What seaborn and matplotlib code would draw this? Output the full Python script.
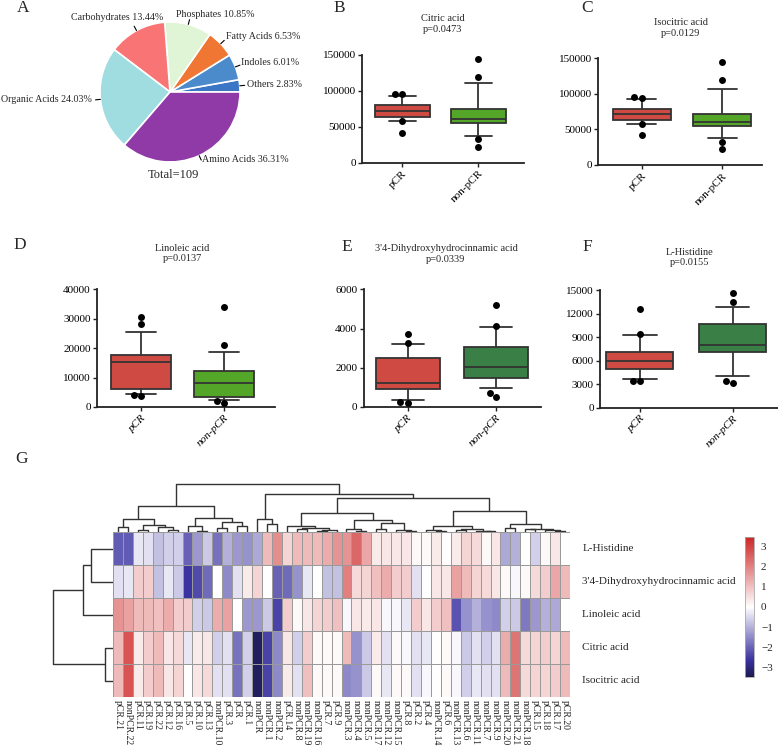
import numpy as np
import pandas as pd
import seaborn as sns
import matplotlib
matplotlib.use("Agg")
from matplotlib import pyplot as plt
from matplotlib.colors import LinearSegmentedColormap

# ---------------- data ----------------
pie_names = ["Others", "Indoles", "Fatty Acids", "Phosphates",
             "Carbohydrates", "Organic Acids", "Amino Acids"]
pie_pct = [2.83, 6.01, 6.53, 10.85, 13.44, 24.03, 36.31]
pie_total = 109

groups = ["pCR", "non-pCR"]

# box stats: whisker low, Q1, median, Q3, whisker high
citric_pcr = [58100, 63200, 72000, 79900, 93300]
citric_non = [37200, 55700, 60900, 74400, 110600]
citric_pcr_out = [96000, 95500, 58500, 41000]
citric_non_out = [144500, 119000, 32600, 22300]

isocitric_pcr = [57700, 63300, 71700, 79200, 93400]
isocitric_non = [37500, 54800, 60900, 71700, 107300]
isocitric_pcr_out = [95000, 94600, 57700, 42200]
isocitric_non_out = [144500, 119200, 32800, 22900]

linoleic_pcr = [4300, 6100, 15400, 17700, 25600]
linoleic_non = [2400, 3500, 8000, 12200, 18800]
linoleic_pcr_out = [30700, 28100, 3800, 4100]
linoleic_non_out = [34100, 21100, 1500, 1900]

dhc_pcr = [360, 900, 1240, 2480, 3210]
dhc_non = [950, 1500, 2060, 3050, 4100]
dhc_pcr_out = [3710, 3250, 220, 240]
dhc_non_out = [5200, 4130, 700, 500]

histidine_pcr = [3660, 4900, 6000, 7150, 9280]
histidine_non = [4050, 7070, 8000, 10690, 12900]
histidine_pcr_out = [12560, 9410, 3410, 3400]
histidine_non_out = [14680, 13530, 3190, 3410]

# heatmap
hm_rows = ["L-Histidine", "3'4-Dihydroxyhydrocinnamic acid", "Linoleic acid",
           "Citric acid", "Isocitric acid"]
hm_cols = ["pCR.21", "nonPCR.22", "pCR.11", "pCR.19", "pCR.22", "pCR.12", "pCR.16",
           "pCR.5", "pCR.10", "pCR.13", "nonPCR.10", "pCR.3", "pCR", "pCR.1", "nonPCR",
           "nonPCR.1", "nonPCR.2", "pCR.14", "nonPCR.8", "nonPCR.19", "nonPCR.16",
           "pCR.7", "pCR.9", "nonPCR.3", "nonPCR.4", "nonPCR.5", "nonPCR.17",
           "nonPCR.12", "nonPCR.15", "pCR.8", "pCR.2", "pCR.4", "nonPCR.14", "pCR.6",
           "nonPCR.13", "nonPCR.6", "nonPCR.11", "nonPCR.7", "nonPCR.9", "nonPCR.20",
           "nonPCR.21", "nonPCR.18", "pCR.15", "pCR.18", "pCR.17", "pCR.20"]
hm_histidine = [-2.1, -2.1, -0.3, -0.4, -0.8, -0.6, -0.6, -2.0, -1.3, -0.7, -1.8, -1.0, -1.3, -1.4, -1.1,
                1.1, 1.8, 0.7, 1.1, 1.1, 1.1, 1.3, 1.7, 1.7, 2.4, 1.4, 0.3, 0.4, 0.4, 0.4, 0.1,
                0.1, 0.3, 0.0, 0.3, 0.7, 0.6, 0.1, 0.4, -1.1, -1.0, 0.0, -0.6, 0.1, 0.4, 0.0]
hm_dhc = [-0.4, -0.3, 0.8, 0.8, -0.8, -0.3, -0.7, -2.6, -2.3, -1.9, 0.0, -1.5, -0.4, 0.3, 0.7,
          0.0, -2.0, -1.9, -1.4, -0.3, 0.0, -0.8, -0.8, 2.0, 0.6, 0.7, 1.0, 1.3, 0.8, 0.8, -0.4,
          0.0, 0.4, 0.4, 1.5, 1.1, 0.7, 0.6, 0.4, 0.1, -0.1, 0.1, 0.6, 0.8, 1.4, 1.1]
hm_linoleic = [1.7, 1.5, 1.1, 1.1, 1.0, 1.3, 0.8, 0.8, -0.6, -0.7, 1.3, 1.5, 0.0, -1.3, -1.3,
               -0.7, -2.4, 0.8, 0.1, 0.4, 0.7, 0.8, 1.0, -0.1, 0.4, 0.3, 0.4, -0.1, -0.1, -0.3, 0.8,
               0.4, 0.8, 1.0, -2.2, -1.4, -1.0, -1.4, -1.5, -0.6, -0.7, -1.7, -1.3, -1.0, -1.1, 0.0]
hm_citric = [1.1, 2.7, 0.3, 0.8, 1.1, 0.4, 0.6, -0.3, 0.3, 0.4, -0.6, -0.4, -1.8, -0.6, -3.3,
             -2.4, -1.5, 0.4, -0.6, 0.8, 0.1, 0.1, 0.1, 1.1, -1.4, -0.7, 0.3, -0.4, 0.1, -0.1, -0.4,
             -0.3, 0.0, 0.1, -0.1, -0.7, -0.4, -0.6, -0.4, 1.3, 2.2, 0.6, 0.7, 0.8, 0.7, 1.1]
hm_isocitric = [1.1, 2.7, 0.3, 0.8, 1.1, 0.4, 0.7, 0.0, 0.4, 0.6, -0.4, -0.4, -1.8, -0.6, -3.3,
                -2.4, -1.5, 0.3, -0.4, 1.0, 0.1, 0.1, 0.1, -1.5, -1.4, -0.7, 0.1, -0.3, 0.1, 0.1, -0.4,
                -0.1, 0.0, 0.1, -0.1, -0.6, -0.3, -0.4, -0.4, 1.1, 2.2, 0.6, 0.7, 0.7, 0.8, 1.1]
cbar_ticks = [-3, -2, -1, 0, 1, 2, 3]


# dendrogram trees: (left, right, merge height); ints are leaf indices
def N(a, b, h):
    return (a, b, h)


ll = N(N(0, 1, 5.3), N(N(2, 3, 2.3), N(4, N(5, 6, 2.3), 4.7), 7.0), 13.0)
lr = N(N(7, N(8, 9, 1.3), 6.3), N(N(10, 11, 3.7), N(12, 13, 6.3), 9.7), 13.7)
rl = N(14, N(15, 16, 8.0), 13.0)
ca = N(17, N(N(18, 19, 3.0), N(N(20, 21, 1.5), 22, 2.5), 4.5), 6.0)
cb = N(N(23, N(24, 25, 1.5), 3.0), N(N(26, 27, 3.0), N(28, N(29, 30, 1.2), 2.5), 9.3), 12.0)
c1 = N(N(31, N(32, 33, 1.5), 2.5), N(N(34, 35, 2.0), N(36, N(37, 38, 0.8), 1.2), 3.0), 6.0)
c2 = N(N(39, 40, 4.0), N(N(41, 42, 3.0), N(43, N(44, 45, 1.5), 2.5), 3.5), 8.3)
col_tree = N(N(ll, lr, 26.3),
             N(rl, N(N(ca, cb, 18.7), N(c1, c2, 21.0), 34.3), 37.7), 48.3)
row_tree = N(N(N(0, 1, 22), 2, 30), N(3, 4, 8), 60)

# ---------------- style ----------------
sns.set_style("ticks")
plt.rcParams["font.family"] = ["Liberation Serif", "DejaVu Serif"]

W, H = 778, 748
fig = plt.figure(figsize=(W / 100, H / 100), dpi=100)


def frame(l, t, r, b):
    return fig.add_axes([l / W, 1 - b / H, (r - l) / W, (b - t) / H])


# ---------------- A: pie ----------------
pie_colors = ["#3b76c6", "#4b8bcb", "#f07634", "#e0f5d6", "#f97474", "#9fdde0", "#8f3aa6"]
pie_label_pos = [(1.10, 0.11, "left"), (1.02, 0.42, "left"), (0.80, 0.79, "left"),
                 (0.64, 1.11, "center"), (-0.76, 1.07, "center"),
                 (-1.12, -0.10, "right"), (0.46, -0.96, "left")]
pax = frame(100, 22, 240, 162)
wedges, _ = pax.pie(pie_pct, colors=pie_colors, startangle=0, counterclock=True,
                    wedgeprops=dict(edgecolor="white", linewidth=1.2))
for w, name, pct, (lx, ly, ha) in zip(wedges, pie_names, pie_pct, pie_label_pos):
    ang = np.deg2rad((w.theta1 + w.theta2) / 2)
    pax.plot([np.cos(ang), 1.07 * np.cos(ang)], [np.sin(ang), 1.07 * np.sin(ang)],
             color="black", lw=0.8, clip_on=False)
    pax.text(lx, ly, f"{name} {pct:.2f}%", ha=ha, va="center", fontsize=7.2)
pax.text(0.05, -1.19, f"Total={pie_total}", ha="center", va="center", fontsize=9)
pax.set_xlim(-1, 1)
pax.set_ylim(-1, 1)
pax.axis("off")

# ---------------- B-F: box plots ----------------
red = "#e5352b"
green_light = "#4dbb12"
green_dark = "#2f8a3e"

panels = [
    ("Citric acid\np=0.0473", (362, 55, 524, 162.7), (-0.53, 1.6), 150000,
     [0, 50000, 100000, 150000], citric_pcr, citric_non, citric_pcr_out, citric_non_out,
     green_light, "normal", (443, 24)),
    ("Isocitric acid\np=0.0129", (598, 58.3, 762, 165), (-0.54, 1.49), 150000,
     [0, 50000, 100000, 150000], isocitric_pcr, isocitric_non, isocitric_pcr_out,
     isocitric_non_out, green_light, "normal", (681, 28)),
    ("Linoleic acid\np=0.0137", (97, 289.3, 275, 407), (-0.53, 1.61), 40000,
     [0, 10000, 20000, 30000, 40000], linoleic_pcr, linoleic_non, linoleic_pcr_out,
     linoleic_non_out, green_light, "italic", (182.5, 253.5)),
    ("3'4-Dihydroxyhydrocinnamic acid\np=0.0339", (363.6, 289.3, 541, 407), (-0.5, 1.51), 6000,
     [0, 2000, 4000, 6000], dhc_pcr, dhc_non, dhc_pcr_out, dhc_non_out,
     green_dark, "italic", (446, 254)),
    ("L-Histidine\np=0.0155", (600, 290.2, 778, 407.7), (-0.43, 1.49), 15000,
     [0, 3000, 6000, 9000, 12000, 15000], histidine_pcr, histidine_non, histidine_pcr_out,
     histidine_non_out, green_dark, "italic", (689.5, 257.5)),
]

for (title, box, xlim, ymax, yticks, bp, bn, op, on, gcol, style, tpos) in panels:
    ax = frame(*box)
    df = pd.DataFrame({"group": [groups[0]] * len(bp) + [groups[1]] * len(bn),
                       "value": bp + bn})
    dfo = pd.DataFrame({"group": [groups[0]] * len(op) + [groups[1]] * len(on),
                        "value": op + on})
    sns.boxplot(data=df, x="group", y="value", hue="group", order=groups,
                palette=[red, gcol], whis=(0, 100), width=0.72, linecolor="#333333",
                linewidth=1.3, legend=False, ax=ax)
    sns.swarmplot(data=dfo, x="group", y="value", order=groups, color="black",
                  size=5, ax=ax)
    ax.set_xlim(*xlim)
    ax.set_ylim(0, ymax)
    ax.set_yticks(yticks)
    ax.set_yticklabels([str(v) for v in yticks], fontsize=8)
    ax.set_xticks([0, 1])
    ax.set_xticklabels(groups, rotation=45, ha="right", rotation_mode="anchor",
                       fontsize=8, fontstyle=style)
    ax.set_xlabel("")
    ax.set_ylabel("")
    sns.despine(ax=ax)
    for s in ["left", "bottom"]:
        ax.spines[s].set_linewidth(1.3)
        ax.spines[s].set_color("#222222")
    ax.tick_params(direction="out", length=3, width=1, pad=1.5, colors="#222222")
    ax.tick_params(axis="x", labelcolor="black")
    ax.tick_params(axis="y", labelcolor="black")
    fig.text(tpos[0] / W, 1 - tpos[1] / H, title, ha="center", va="center",
             fontsize=7.5, linespacing=1.25)

# panel letters
for letter, (lx, ly) in zip("ABCDEFG", [(23, 8), (339, 8), (587, 8), (20, 245),
                                        (347, 247), (587, 247), (22, 459)]):
    fig.text(lx / W, 1 - ly / H, letter, ha="center", va="center", fontsize=12.5)

# ---------------- G: heatmap ----------------
hm = pd.DataFrame([hm_histidine, hm_dhc, hm_linoleic, hm_citric, hm_isocitric],
                  index=hm_rows, columns=hm_cols)
cmap = LinearSegmentedColormap.from_list(
    "nwf", [(0.0, "#1c1a50"), (0.12, "#3a32a0"), (0.5, "#ffffff"), (1.0, "#cd2626")])

hax = frame(113, 532, 570, 697)
cax = frame(745, 537, 754, 677)
sns.heatmap(hm, ax=hax, cmap=cmap, vmin=-3.45, vmax=3.45, linewidths=0.7,
            linecolor="#9a9a9a", cbar_ax=cax, cbar_kws={"ticks": cbar_ticks},
            xticklabels=True, yticklabels=True)
hax.yaxis.tick_right()
hax.tick_params(axis="y", length=0, pad=9, labelsize=8)
hax.tick_params(axis="x", length=0, pad=2, labelsize=7)
plt.setp(hax.get_yticklabels(), rotation=0, ha="left", va="center")
plt.setp(hax.get_xticklabels(), rotation=270, ha="center", va="top")
hax.set_xlabel("")
hax.set_ylabel("")
cbar = hax.collections[0].colorbar
cax.tick_params(length=0, labelsize=8, pad=5)
cbar.outline.set_edgecolor("#aaaaaa")
cbar.outline.set_linewidth(0.6)


def draw_tree(ax, node, orient):
    if isinstance(node, int):
        return node + 0.5, 0.0
    a, b, h = node
    xa, ha = draw_tree(ax, a, orient)
    xb, hb = draw_tree(ax, b, orient)
    xs = [xa, xa, xb, xb]
    ys = [ha, h, h, hb]
    if orient == "top":
        ax.plot(xs, ys, color="#333333", lw=1.0, solid_capstyle="butt")
    else:
        ax.plot(ys, xs, color="#333333", lw=1.0, solid_capstyle="butt")
    return (xa + xb) / 2, h


cdax = frame(113, 478, 570, 532)
draw_tree(cdax, col_tree, "top")
cdax.set_xlim(0, len(hm_cols))
cdax.set_ylim(0, 54)
cdax.axis("off")

rdax = frame(45, 532, 113, 697)
draw_tree(rdax, row_tree, "left")
rdax.set_ylim(len(hm_rows), 0)
rdax.set_xlim(68, 0)
rdax.axis("off")

fig.savefig("out.png", dpi=100)
